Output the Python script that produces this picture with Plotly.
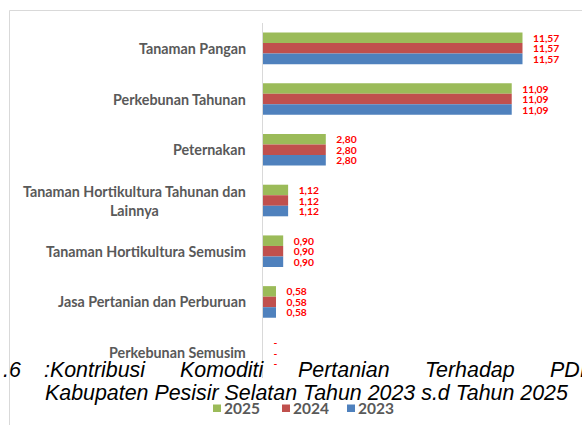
import plotly.graph_objects as go

# ---------------- data ----------------
categories = [
    "Tanaman Pangan",
    "Perkebunan Tahunan",
    "Peternakan",
    "Tanaman Hortikultura Tahunan dan Lainnya",
    "Tanaman Hortikultura Semusim",
    "Jasa Pertanian dan Perburuan",
    "Perkebunan Semusim",
]
category_labels = [
    "Tanaman Pangan",
    "Perkebunan Tahunan",
    "Peternakan",
    "Tanaman Hortikultura Tahunan dan<br>Lainnya",
    "Tanaman Hortikultura Semusim",
    "Jasa Pertanian dan Perburuan",
    "Perkebunan Semusim",
]
years = ["2025", "2024", "2023"]
values_2025 = [11.57, 11.09, 2.80, 1.12, 0.90, 0.58, 0.0]
values_2024 = [11.57, 11.09, 2.80, 1.12, 0.90, 0.58, 0.0]
values_2023 = [11.57, 11.09, 2.80, 1.12, 0.90, 0.58, 0.0]
series_values = {"2025": values_2025, "2024": values_2024, "2023": values_2023}
series_colors = {"2025": "#9BBB59", "2024": "#C0504D", "2023": "#4F81BD"}

caption_line1 = [".6", ":Kontribusi", "Komoditi", "Pertanian", "Terhadap", "PDI"]
caption_line2 = "Kabupaten Pesisir Selatan Tahun 2023 s.d Tahun 2025"

# ---------------- layout geometry (pixels) ----------------
W, H = 582, 425
PL, PR, PT, PB = 263, 577, 23, 378
pw, ph = PR - PL, PB - PT


def px_x(x):
    return (x - PL) / pw


def px_y(y):
    return (PB - y) / ph


def fmt(v):
    nb = "\u00a0\u00a0\u00a0"
    if v == 0:
        return nb + "-"
    return nb + f"{v:.2f}".replace(".", ",")


fig = go.Figure()
for yr in years:
    vals = series_values[yr]
    fig.add_trace(go.Bar(
        name=yr,
        y=categories,
        x=vals,
        orientation="h",
        marker=dict(color=series_colors[yr], line=dict(width=0)),
        text=[fmt(v) for v in vals],
        textposition="outside",
        textfont=dict(family="Lato", size=10.3, color="#FF0000", weight="bold"),
        constraintext="none",
        cliponaxis=False,
        hoverinfo="skip",
        showlegend=False,
    ))

annotations = []
# category labels (centered multi-line, right anchored like Excel)
for cat, lab in zip(categories, category_labels):
    annotations.append(dict(
        x=px_x(248), xref="paper", y=cat, yref="y",
        text=lab, showarrow=False, xanchor="right", yanchor="middle",
        align="center",
        font=dict(family="Lato", size=14.3, color="#595959", weight="bold"),
    ))

# caption (justified first line, plain second line)
cap_font = dict(family="Liberation Sans", size=21.4, color="#000000", style="italic")
line1_left = [1, 42, 178, 296, 423, 548]
for word, xl in zip(caption_line1, line1_left):
    annotations.append(dict(
        x=px_x(xl), xref="paper", y=px_y(369.5), yref="paper",
        text=word, showarrow=False, xanchor="left", yanchor="middle",
        font=cap_font,
    ))
annotations.append(dict(
    x=px_x(43), xref="paper", y=px_y(393), yref="paper",
    text=caption_line2, showarrow=False, xanchor="left", yanchor="middle",
    font=cap_font,
))

shapes = []
# legend (built like the Excel legend: small square + bold year)
legend_left = [213, 282, 347]
for yr, xl in zip(years, legend_left):
    shapes.append(dict(
        type="rect", xref="paper", yref="paper",
        x0=px_x(xl), x1=px_x(xl + 8), y0=px_y(404.5), y1=px_y(412),
        fillcolor=series_colors[yr], line=dict(width=0),
    ))
    annotations.append(dict(
        x=px_x(xl + 9), xref="paper", y=px_y(407.5), yref="paper",
        text=yr, showarrow=False, xanchor="left", yanchor="middle",
        font=dict(family="Lato", size=15.5, color="#595959", weight="bold"),
    ))

frame_x = px_x(9.5)
frame_y = px_y(10.5)
shapes += [
    dict(type="line", xref="paper", yref="paper", x0=frame_x, x1=frame_x,
         y0=frame_y, y1=px_y(440), line=dict(color="#D9D9D9", width=1)),
    dict(type="line", xref="paper", yref="paper", x0=frame_x, x1=px_x(600),
         y0=frame_y, y1=frame_y, line=dict(color="#D9D9D9", width=1)),
]

fig.update_layout(
    width=W, height=H,
    margin=dict(l=PL, r=W - PR, t=PT, b=H - PB, pad=0, autoexpand=False),
    paper_bgcolor="white", plot_bgcolor="white",
    barmode="group", bargap=0.377, bargroupgap=0,
    xaxis=dict(range=[0, 14], visible=False, showgrid=False, zeroline=False),
    yaxis=dict(autorange="reversed", showticklabels=False, ticks="",
               showgrid=False, zeroline=False, showline=True,
               linecolor="#D9D9D9", linewidth=1),
    showlegend=False,
    annotations=annotations,
    shapes=shapes,
)

fig.write_html(
    "out.html",
    config={"displayModeBar": False},
    post_script="document.body.style.margin='0';document.body.style.overflow='hidden';",
)
